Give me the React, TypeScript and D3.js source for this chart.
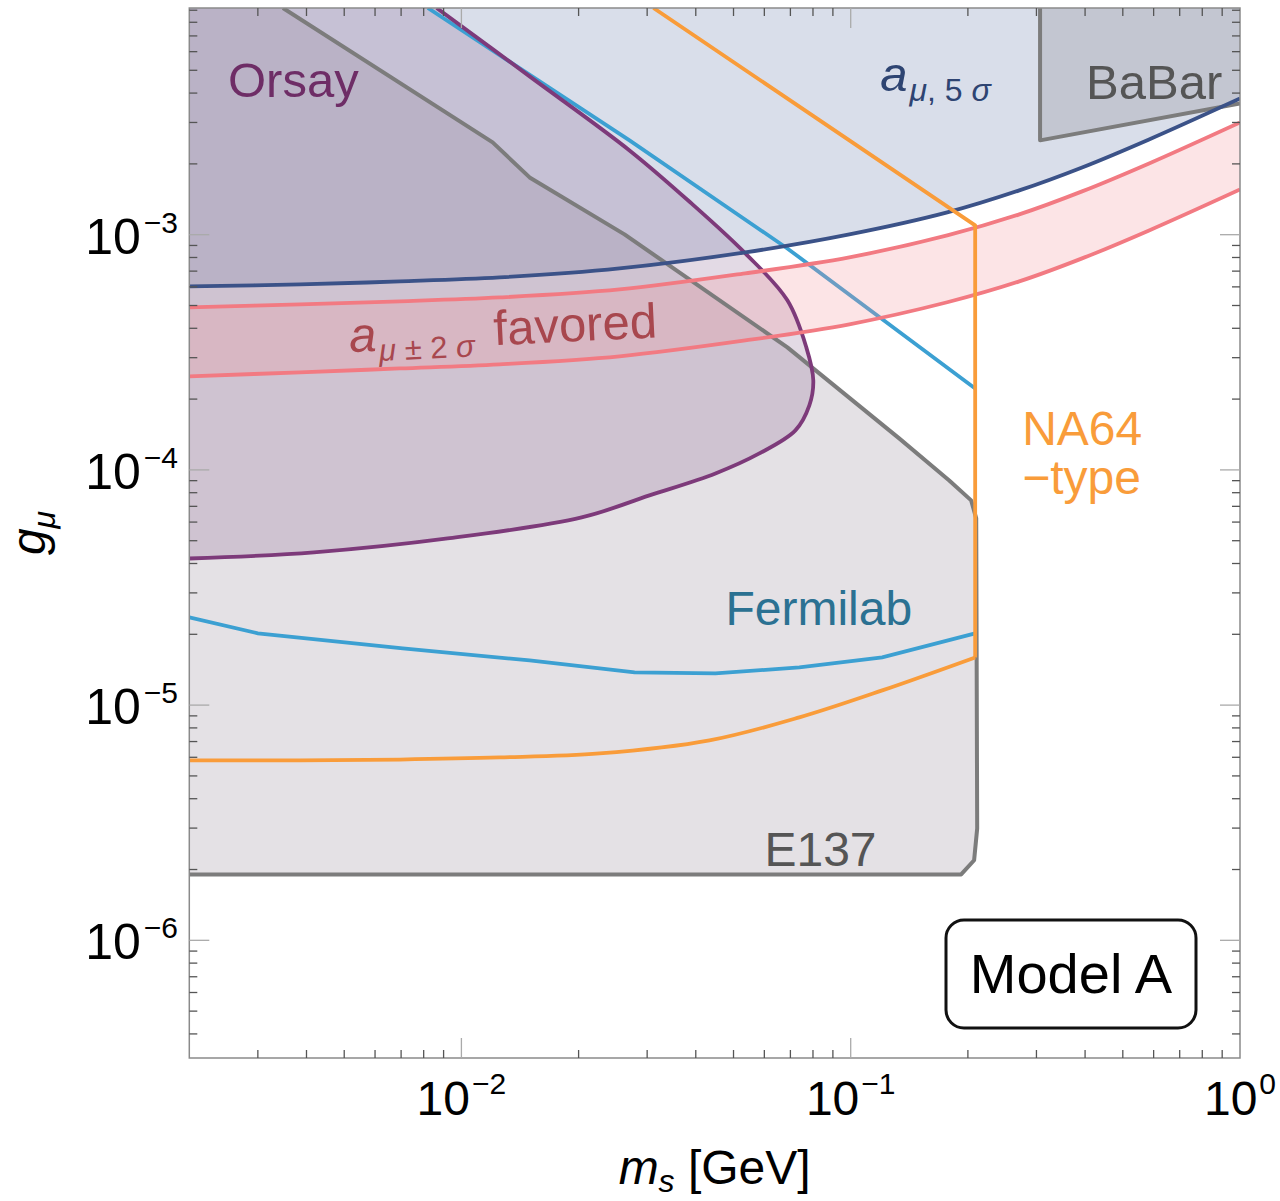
import React, { useEffect, useRef } from 'react';
import * as d3 from 'd3';

const W = 1280;
const H = 1201;

// axis ranges
const xDomain = [0.002, 1];
const yDomain = [3.16e-7, 9.2e-3];
const yTop = yDomain[1];

// major ticks and their exponent labels
const xMajor = [1e-2, 1e-1, 1];
const xMajorExp = ['\u22122', '\u22121', '0'];
const yMajor = [1e-6, 1e-5, 1e-4, 1e-3];
const yMajorExp = ['\u22126', '\u22125', '\u22124', '\u22123'];

// a_mu bands (shared mass grid)
const bandMass = [0.002, 0.00385, 0.00695, 0.01254, 0.02548, 0.0536, 0.0992, 0.177, 0.271, 0.393, 0.584, 1.0];
const aMu5G = [6.03e-4, 6.15e-4, 6.33e-4, 6.58e-4, 7.19e-4, 8.41e-4, 1.003e-3, 1.244e-3, 1.543e-3, 1.932e-3, 2.542e-3, 3.797e-3];
const aMu2High = [4.91e-4, 5.06e-4, 5.21e-4, 5.41e-4, 5.85e-4, 6.85e-4, 8.01e-4, 9.93e-4, 1.22e-3, 1.528e-3, 2.009e-3, 3.002e-3];
const aMu2Low = [2.5e-4, 2.6e-4, 2.7e-4, 2.81e-4, 3.04e-4, 3.55e-4, 4.16e-4, 5.16e-4, 6.33e-4, 7.93e-4, 1.043e-3, 1.558e-3];

// Orsay contour (top edge -> nose -> left edge)
const orsayMass = [0.00864, 0.01497, 0.02703, 0.03899, 0.05363, 0.06876, 0.07691, 0.08015, 0.0783, 0.0721, 0.05826, 0.04493, 0.03041, 0.02036, 0.00922, 0.00418, 0.002];
const orsayG = [9.2e-3, 4.71e-3, 2.282e-3, 1.358e-3, 8.33e-4, 5.26e-4, 3.32e-4, 2.4e-4, 1.88e-4, 1.472e-4, 1.175e-4, 9.66e-5, 7.79e-5, 6.28e-5, 5.11e-5, 4.46e-5, 4.2e-5];

// Fermilab projection
const fermiUpperMass = [0.0082, 0.02703, 0.06876, 0.2088];
const fermiUpperG = [9.2e-3, 2.518e-3, 8.74e-4, 2.22e-4];
const fermiLowerMass = [0.002, 0.003, 0.00707, 0.01497, 0.02785, 0.04493, 0.07381, 0.1205, 0.2088];
const fermiLowerG = [2.36e-5, 2.02e-5, 1.741e-5, 1.549e-5, 1.377e-5, 1.364e-5, 1.446e-5, 1.595e-5, 2.02e-5];

// E137 contour
const e137Mass = [0.00348, 0.01203, 0.01497, 0.02624, 0.06876, 0.1332, 0.1791, 0.2039, 0.2101, 0.2113, 0.2075, 0.1922, 0.002];
const e137G = [9.2e-3, 2.469e-3, 1.752e-3, 1.003e-3, 3.32e-4, 1.361e-4, 9.02e-5, 7.42e-5, 6.22e-5, 2.99e-6, 2.19e-6, 1.906e-6, 1.906e-6];

// NA64-type projection: curved lower edge, then the vertical and diagonal edges
const na64Mass = [0.002, 0.00385, 0.00695, 0.01254, 0.02264, 0.04337, 0.07381, 0.1205, 0.2088, 0.2088, 0.03114];
const na64G = [5.82e-6, 5.82e-6, 5.87e-6, 5.99e-6, 6.23e-6, 7.08e-6, 8.87e-6, 1.155e-5, 1.595e-5, 1.095e-3, 9.2e-3];

// BaBar
const babarMass = [0.3065, 0.3065, 1.0];
const babarG = [9.2e-3, 2.518e-3, 3.617e-3];

const FONT = "'Liberation Sans', Arial, Helvetica, sans-serif";

const pts = (ms: number[], gs: number[]): [number, number][] => ms.map((m, i) => [m, gs[i]]);

const App = () => {
  const svgRef = useRef<SVGSVGElement>(null);

  useEffect(() => {
    const svg = d3.select(svgRef.current);
    svg.selectAll('*').remove();

    const x = d3.scaleLog().domain(xDomain).range([189.3, 1240]);
    const y = d3.scaleLog().domain(yDomain).range([1058, 8]);
    const [xl, xr] = x.range();
    const [yb, yt] = y.range();

    const mkLine = (curve: d3.CurveFactory) =>
      d3.line<[number, number]>().x(d => x(d[0])).y(d => y(d[1])).curve(curve);
    const linear = mkLine(d3.curveLinear);
    const smooth = mkLine(d3.curveCatmullRom.alpha(0.5));

    svg.append('defs').append('clipPath').attr('id', 'plot-clip')
      .append('rect').attr('x', xl).attr('y', yt).attr('width', xr - xl).attr('height', yb - yt);

    const plot = svg.append('g').attr('clip-path', 'url(#plot-clip)');

    // ---- filled regions
    const a5 = pts(bandMass, aMu5G);
    plot.append('path')
      .attr('d', smooth(a5)!.toString() + `L${x(1)},${y(yTop)}L${x(0.002)},${y(yTop)}Z`)
      .attr('fill', '#8093b8').attr('fill-opacity', 0.3);

    const e137 = pts(e137Mass, e137G);
    plot.append('path')
      .attr('d', linear([[0.002, yTop], ...e137])! + 'Z')
      .attr('fill', '#a69ca9').attr('fill-opacity', 0.3);

    const orsay = pts(orsayMass, orsayG);
    plot.append('path')
      .attr('d', `M${x(0.002)},${y(yTop)}L` + smooth(orsay)!.slice(1) + 'Z')
      .attr('fill', '#8f6a98').attr('fill-opacity', 0.25);

    const babar = pts(babarMass, babarG);
    plot.append('path')
      .attr('d', linear([...babar, [1, yTop]])! + 'Z')
      .attr('fill', '#9a9aa2').attr('fill-opacity', 0.35);

    // Fermilab lines (under the red band)
    plot.append('path').attr('d', linear(pts(fermiUpperMass, fermiUpperG)))
      .attr('fill', 'none').attr('stroke', '#3ca0d2').attr('stroke-width', 3.8);
    plot.append('path').attr('d', linear(pts(fermiLowerMass, fermiLowerG)))
      .attr('fill', 'none').attr('stroke', '#3ca0d2').attr('stroke-width', 3.8);

    // a_mu +-2 sigma band
    const hi = pts(bandMass, aMu2High);
    const lo = pts(bandMass, aMu2Low);
    plot.append('path')
      .attr('d', smooth(hi)! + 'L' + smooth([...lo].reverse())!.slice(1) + 'Z')
      .attr('fill', '#f5959c').attr('fill-opacity', 0.25);

    // ---- boundary lines
    const stroke = (d: string | null, color: string, w = 3.8) =>
      plot.append('path').attr('d', d).attr('fill', 'none').attr('stroke', color)
        .attr('stroke-width', w).attr('stroke-linejoin', 'round');

    stroke(linear(e137), '#7c7c7c', 4);
    stroke(linear(babar), '#7c7c7c', 4);
    stroke(smooth(orsay), '#7d3a7a');
    stroke(smooth(a5), '#3b5288');
    stroke(smooth(hi), '#f27a82');
    stroke(smooth(lo), '#f27a82');
    const na64 = pts(na64Mass, na64G);
    stroke(smooth(na64.slice(0, 9)), '#f99c3a');
    stroke(linear(na64.slice(8)), '#f99c3a');

    // ---- frame and ticks
    const axes = svg.append('g');
    axes.append('rect').attr('x', xl).attr('y', yt).attr('width', xr - xl).attr('height', yb - yt)
      .attr('fill', 'none').attr('stroke', '#8a8a8a').attr('stroke-width', 1.5);

    const isMajor = (v: number) => Math.abs(Math.log10(v) - Math.round(Math.log10(v))) < 1e-6;
    x.ticks().forEach(v => {
      const px = x(v);
      if (px < xl + 1 || px > xr - 1) return;
      const len = isMajor(v) ? 20 : 8;
      const col = isMajor(v) ? '#aaaaaa' : '#555555';
      axes.append('line').attr('x1', px).attr('x2', px).attr('y1', yb).attr('y2', yb - len)
        .attr('stroke', col).attr('stroke-width', 1.3);
      axes.append('line').attr('x1', px).attr('x2', px).attr('y1', yt).attr('y2', yt + len)
        .attr('stroke', col).attr('stroke-width', 1.3);
    });
    y.ticks().forEach(v => {
      const py = y(v);
      if (py < yt + 1 || py > yb - 1) return;
      const len = isMajor(v) ? 20 : 8;
      const col = isMajor(v) ? '#aaaaaa' : '#555555';
      axes.append('line').attr('x1', xl).attr('x2', xl + len).attr('y1', py).attr('y2', py)
        .attr('stroke', col).attr('stroke-width', 1.3);
      axes.append('line').attr('x1', xr).attr('x2', xr - len).attr('y1', py).attr('y2', py)
        .attr('stroke', col).attr('stroke-width', 1.3);
    });

    // tick labels
    xMajor.forEach((v, i) => {
      const t = axes.append('text').attr('x', x(v)).attr('y', 1115).attr('text-anchor', 'middle')
        .style('font-family', FONT).style('font-size', '48px').attr('fill', '#000');
      t.append('tspan').text('10');
      t.append('tspan').attr('dy', -21).attr('dx', 2).style('font-size', '30px').text(xMajorExp[i]);
    });
    yMajor.forEach((v, i) => {
      const t = axes.append('text').attr('x', 178).attr('y', y(v) + 19).attr('text-anchor', 'end')
        .style('font-family', FONT).style('font-size', '50px').attr('fill', '#000');
      t.append('tspan').text('10');
      t.append('tspan').attr('dy', -21).attr('dx', 3).style('font-size', '30px').text(yMajorExp[i]);
    });

    // axis titles
    const xt = axes.append('text').attr('x', (xl + xr) / 2).attr('y', 1184).attr('text-anchor', 'middle')
      .style('font-family', FONT).style('font-size', '48px');
    xt.append('tspan').style('font-style', 'italic').text('m');
    xt.append('tspan').style('font-style', 'italic').style('font-size', '32px').attr('dy', 8).text('s');
    xt.append('tspan').attr('dy', -8).text(' [GeV]');

    const ytl = axes.append('text').attr('transform', `translate(45,${(yt + yb) / 2}) rotate(-90)`)
      .attr('text-anchor', 'middle').style('font-family', FONT).style('font-size', '48px');
    ytl.append('tspan').style('font-style', 'italic').text('g');
    ytl.append('tspan').style('font-style', 'italic').style('font-size', '32px').attr('dy', 10).text('\u03bc');

    // ---- region labels
    const label = (m: number, g: number, color: string, size = 48) =>
      svg.append('text').attr('x', x(m)).attr('y', y(g)).attr('fill', color)
        .style('font-family', FONT).style('font-size', `${size}px`);

    label(0.002514, 3.835e-3, '#6e2d66', 49).text('Orsay');
    label(0.4024, 3.76e-3, '#555555', 49).text('BaBar');
    label(0.04768, 2.2e-5, '#2b7192').text('Fermilab');
    label(0.06003, 2.08e-6, '#555555').text('E137');
    label(0.2757, 1.271e-4, '#f99c3a').text('NA64');
    label(0.2757, 7.87e-5, '#f99c3a').text('\u2212type');

    const a5l = label(0.1191, 4.1e-3, '#2e4472', 49);
    a5l.append('tspan').style('font-style', 'italic').text('a');
    a5l.append('tspan').style('font-style', 'italic').style('font-size', '32px').attr('dy', 10).attr('dx', 2).text('\u03bc');
    a5l.append('tspan').style('font-size', '32px').text(', 5 ');
    a5l.append('tspan').style('font-style', 'italic').style('font-size', '32px').text('\u03c3');

    const fav = svg.append('text')
      .attr('transform', `translate(${x(0.00517)},${y(3.16e-4)}) rotate(-2.8)`)
      .attr('fill', '#a8474e').style('font-family', FONT).style('font-size', '49px');
    fav.append('tspan').style('font-style', 'italic').text('a');
    fav.append('tspan').style('font-style', 'italic').style('font-size', '31px').attr('dy', 10).attr('dx', 2).text('\u03bc');
    fav.append('tspan').style('font-size', '31px').text(' \u00b1 2 ');
    fav.append('tspan').style('font-style', 'italic').style('font-size', '31px').text('\u03c3');
    fav.append('tspan').attr('dy', -10).attr('dx', 6).text(' favored');

    // ---- model box
    const bw = 250, bh = 108;
    const bx = xr - 44 - bw, by = yb - 30 - bh;
    svg.append('rect').attr('x', bx).attr('y', by).attr('width', bw).attr('height', bh)
      .attr('rx', 18).attr('fill', '#fff').attr('stroke', '#111').attr('stroke-width', 3);
    svg.append('text').attr('x', bx + bw / 2).attr('y', by + 73).attr('text-anchor', 'middle')
      .style('font-family', FONT).style('font-size', '56px').attr('fill', '#000').text('Model A');
  }, []);

  return (
    <svg ref={svgRef} width={W} height={H}
      style={{ position: 'absolute', left: 0, top: 0, background: '#fff' }} />
  );
};

export default App;
